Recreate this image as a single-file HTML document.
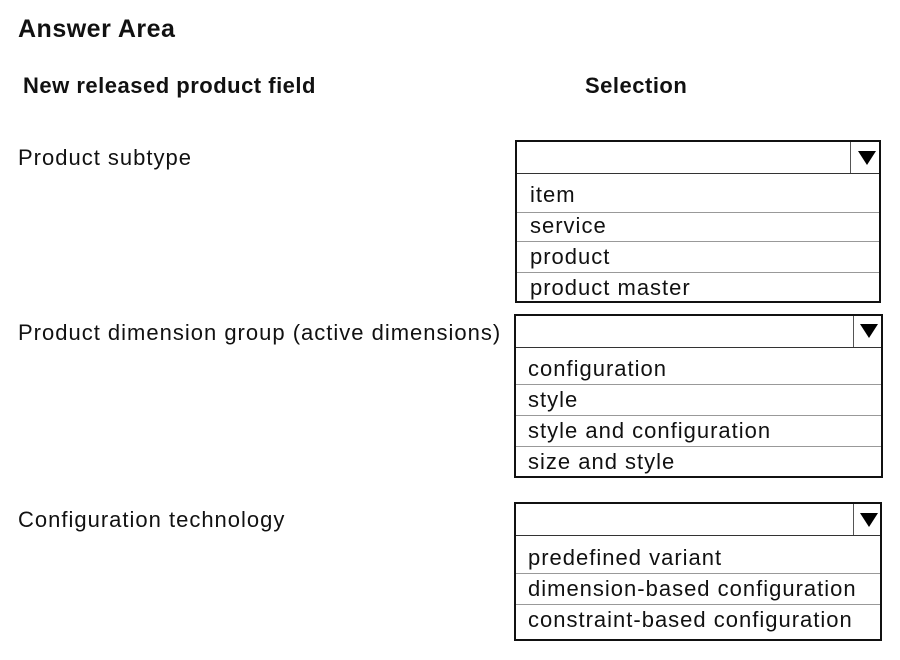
<!DOCTYPE html>
<html><head><meta charset="utf-8"><style>
body{margin:0;width:900px;height:660px;background:#fff;position:relative;overflow:hidden;font-family:"Liberation Sans","DejaVu Sans",sans-serif;color:#111}
.t{position:absolute;white-space:nowrap;font-size:22px;letter-spacing:1px;line-height:24px;transform:translateY(-11px)}
.b{font-weight:bold;letter-spacing:0.5px}
.box{position:absolute;border:2px solid #111;box-sizing:border-box}
.hl{position:absolute;left:0;right:0;height:1px;background:#999}
.hd{position:absolute;left:0;right:0;height:1px;background:#333}
.vd{position:absolute;width:1px;background:#555;top:0}
.arr{position:absolute;width:0;height:0;border-left:9px solid transparent;border-right:9px solid transparent;border-top:14px solid #000}
</style></head><body>
<div class="t b" style="left:18px;top:28px;font-size:25px">Answer Area</div>
<div class="t b" style="left:23px;top:85px">New released product field</div>
<div class="t b" style="left:585px;top:85px">Selection</div>

<div class="t" style="left:18px;top:157px">Product subtype</div>
<div class="t" style="left:18px;top:332px">Product dimension group (active dimensions)</div>
<div class="t" style="left:18px;top:519px">Configuration technology</div>

<div class="box" style="left:515px;top:140px;width:366px;height:163px">
 <div class="hd" style="top:31px"></div>
 <div class="vd" style="left:333px;height:31px"></div>
 <div class="arr" style="left:341px;top:9px"></div>
 <div class="hl" style="top:70px"></div>
 <div class="hl" style="top:99px"></div>
 <div class="hl" style="top:130px"></div>
</div>
<div class="t" style="left:530px;top:194px">item</div>
<div class="t" style="left:530px;top:225px">service</div>
<div class="t" style="left:530px;top:256px">product</div>
<div class="t" style="left:530px;top:287px">product master</div>

<div class="box" style="left:514px;top:314px;width:369px;height:164px">
 <div class="hd" style="top:31px"></div>
 <div class="vd" style="left:337px;height:31px"></div>
 <div class="arr" style="left:344px;top:8px"></div>
 <div class="hl" style="top:68px"></div>
 <div class="hl" style="top:99px"></div>
 <div class="hl" style="top:130px"></div>
</div>
<div class="t" style="left:528px;top:368px">configuration</div>
<div class="t" style="left:528px;top:399px">style</div>
<div class="t" style="left:528px;top:430px">style and configuration</div>
<div class="t" style="left:528px;top:461px">size and style</div>

<div class="box" style="left:514px;top:502px;width:368px;height:139px">
 <div class="hd" style="top:31px"></div>
 <div class="vd" style="left:337px;height:31px"></div>
 <div class="arr" style="left:344px;top:9px"></div>
 <div class="hl" style="top:69px"></div>
 <div class="hl" style="top:100px"></div>
</div>
<div class="t" style="left:528px;top:557px">predefined variant</div>
<div class="t" style="left:528px;top:588px">dimension-based configuration</div>
<div class="t" style="left:528px;top:619px">constraint-based configuration</div>
</body></html>
